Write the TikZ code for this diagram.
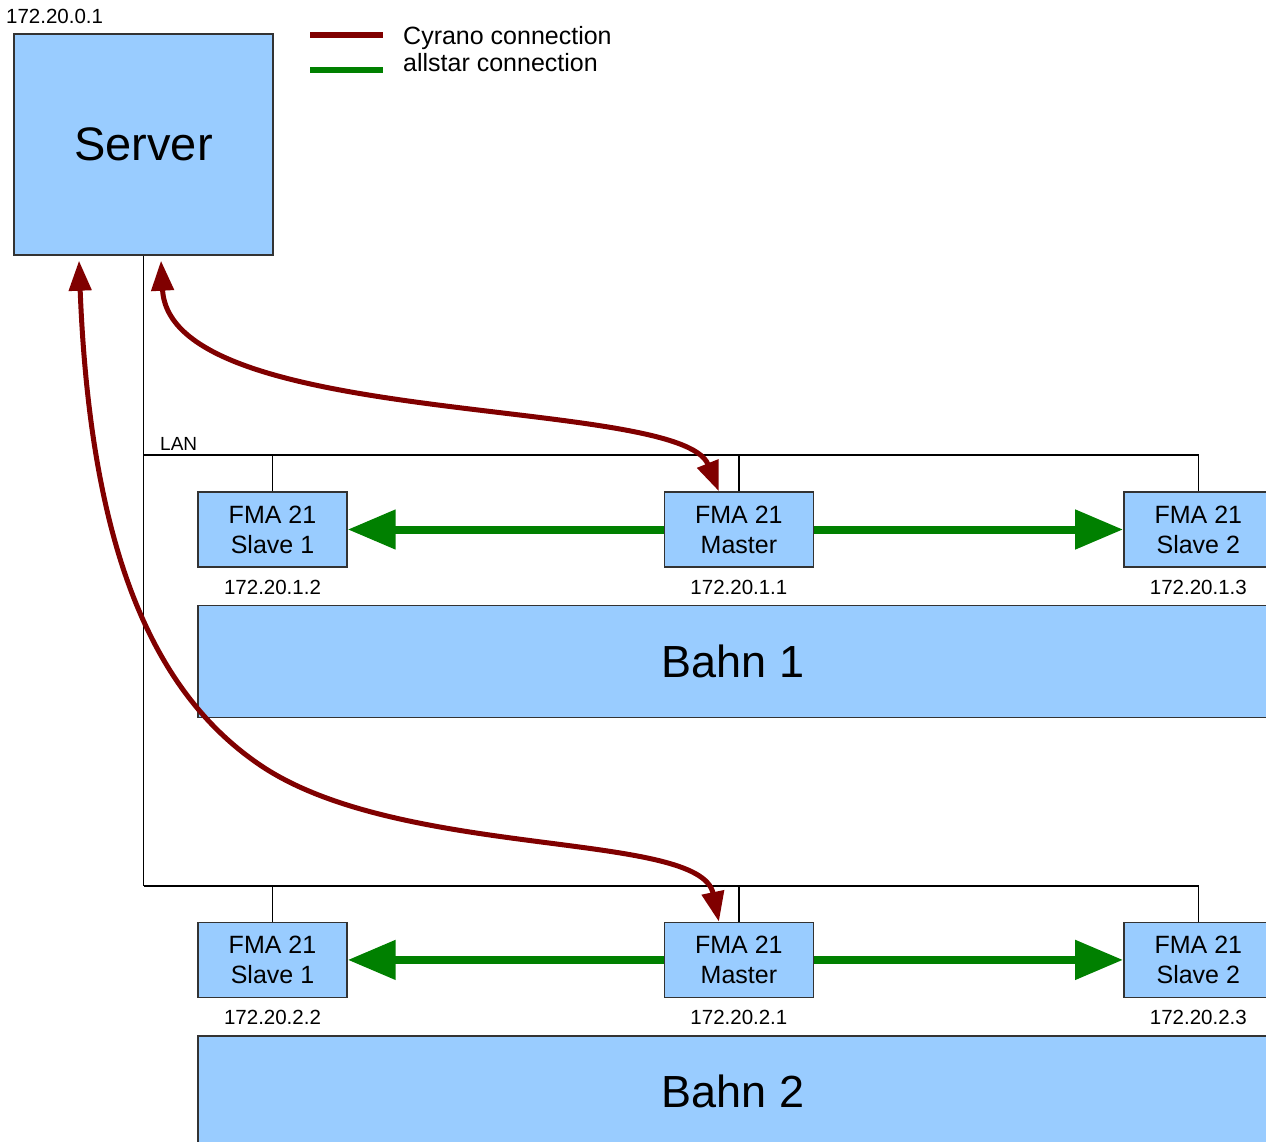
\documentclass[tikz,border=0pt]{standalone}
\usepackage{fontspec}
\setmainfont{Liberation Sans}
\usetikzlibrary{positioning, arrows.meta}
\definecolor{boxblue}{HTML}{99CCFF}
\definecolor{cyrano}{HTML}{800000}
\definecolor{allstar}{HTML}{008000}
\definecolor{edge}{HTML}{333333}

\begin{document}
\begin{tikzpicture}[x=1pt, y=-1pt, node distance=10pt,
  fma/.style={draw=edge, fill=boxblue, line width=1.4pt, minimum width=149pt, minimum height=75pt, inner sep=0pt, align=center, font=\fontsize{25}{30}\selectfont},
  ip/.style={inner sep=0pt, font=\fontsize{20.5}{24}\selectfont},
  bahn/.style={draw=edge, fill=boxblue, line width=1.4pt, minimum width=1070pt, minimum height=112pt, inner sep=0pt, font=\fontsize{45}{54}\selectfont},
  lan/.style={line width=1.4pt},
  cyr/.style={draw=cyrano, line width=5pt, arrows={Triangle[length=30pt,width=22pt]-Triangle[length=30pt,width=22pt]}},
  all/.style={draw=allstar, line width=8pt, arrows={-Triangle[length=48pt,width=38pt]}}]
  \useasboundingbox (0,0) rectangle (1266,1142);
  \clip (0,0) rectangle (1266,1142);

  % server and legend
  \node[draw=edge, fill=boxblue, line width=1.4pt, minimum width=259pt, minimum height=221pt, inner sep=0pt, font=\fontsize{47}{56}\selectfont] (srv) at (143.5,144.5) {Server};
  \node[ip, anchor=north west] (srvip) at (6,9) {172.20.0.1};
  \coordinate (cyrA) at (310,35);
  \coordinate (cyrB) at (383,35);
  \coordinate (allA) at (310,70);
  \coordinate (allB) at (383,70);
  \node[anchor=base west, inner sep=0pt, font=\fontsize{25}{30}\selectfont] (cyrtxt) at (403,45) {Cyrano connection};
  \node[anchor=base west, inner sep=0pt, font=\fontsize{25}{30}\selectfont] (alltxt) at (403,72) {allstar connection};

  % Bahn 1
  \node[fma] (s11) at (272.5,529.5) {FMA 21\\Slave 1};
  \node[fma, right=316pt of s11] (m1) {FMA 21\\Master};
  \node[fma, right=309pt of m1] (s12) {FMA 21\\Slave 2};
  \node[ip, below=12pt of s11] (ip11) {172.20.1.2};
  \node[ip, below=12pt of m1] (ipm1) {172.20.1.1};
  \node[ip, below=12pt of s12] (ip12) {172.20.1.3};
  \node[bahn, below right=37pt and 0pt of s11.south west] (bahn1) {Bahn 1};

  % Bahn 2
  \node[fma, below=354pt of s11] (s21) {FMA 21\\Slave 1};
  \node[fma, right=316pt of s21] (m2) {FMA 21\\Master};
  \node[fma, right=309pt of m2] (s22) {FMA 21\\Slave 2};
  \node[ip, below=12pt of s21] (ip21) {172.20.2.2};
  \node[ip, below=12pt of m2] (ipm2) {172.20.2.1};
  \node[ip, below=12pt of s22] (ip22) {172.20.2.3};
  \node[bahn, below right=37pt and 0pt of s21.south west] (bahn2) {Bahn 2};

  % LAN
  \coordinate (lan1) at (143.5,455);
  \coordinate (lan2) at (143.5,886);
  \node[ip, anchor=south west, font=\fontsize{19}{22}\selectfont] (lanlbl) at (160,451) {LAN};
  \draw[lan] (srv.south) -- (lan2);
  \draw[lan] (lan1) -| (s12.north);
  \draw[lan] (lan2) -| (s22.north);
  \draw[lan] (s11.north) -- (s11.north |- lan1);
  \draw[lan] (m1.north) -- (m1.north |- lan1);
  \draw[lan] (s21.north) -- (s21.north |- lan2);
  \draw[lan] (m2.north) -- (m2.north |- lan2);

  % connections
  \draw[all] (m1.west) -- (s11.east);
  \draw[all] (m1.east) -- (s12.west);
  \draw[all] (m2.west) -- (s21.east);
  \draw[all] (m2.east) -- (s22.west);
  \draw[cyr] ([xshift=17.5pt,yshift=-5pt]srv.south) .. controls (170,430) and (680,395) .. ([xshift=-20pt]m1.north);
  \draw[cyr] ([xshift=-64.5pt,yshift=-5pt]srv.south) .. controls (90,540) and (148,689) .. (260,765) .. controls (400,860) and (700,830) .. ([xshift=-20pt]m2.north);

  % legend
  \draw[draw=cyrano, line width=6pt] (cyrA) -- (cyrB);
  \draw[draw=allstar, line width=6pt] (allA) -- (allB);
\end{tikzpicture}
\end{document}
